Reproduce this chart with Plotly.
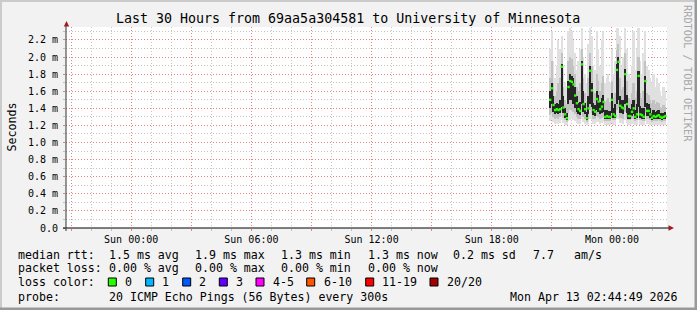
import plotly.graph_objects as go
import pandas as pd

# ---------------- data ----------------
TITLE = "Last 30 Hours from 69aa5a304581 to University of Minnesota"
END_TIME = "2026-04-13 02:44:49"
FIRST_SAMPLE = "2026-04-12 20:55:00"

# median RTT (ms), one value per 5-minute step
median_ms = [1.50, 1.635, 1.44, 1.38, 1.39, 1.38, 1.39, 1.887, 1.41, 1.33,
             1.285, 1.65, 1.72, 1.71, 1.68, 1.55, 1.46, 1.39, 1.37, 1.915,
             1.45, 1.39, 1.285, 1.40, 1.84, 1.61, 1.38, 1.36, 1.51, 1.48,
             1.39, 1.42, 1.475, 1.30, 1.31, 1.30, 1.30, 1.50, 1.33, 1.31,
             1.85, 1.945, 1.43, 1.41, 1.40, 1.80, 1.45, 1.31, 1.31, 1.36,
             1.40, 1.30, 1.33, 1.78, 1.33, 1.32, 1.30, 1.72, 1.37, 1.37,
             1.33, 1.29, 1.31, 1.30, 1.31, 1.32, 1.30, 1.29, 1.30, 1.31]
# smoke: full ping range
smoke_min = [1.25, 1.26, 1.24, 1.22, 1.23, 1.22, 1.23, 1.26, 1.23, 1.21,
             1.20, 1.25, 1.26, 1.27, 1.26, 1.25, 1.23, 1.22, 1.22, 1.28,
             1.24, 1.22, 1.20, 1.22, 1.27, 1.26, 1.22, 1.22, 1.24, 1.24,
             1.22, 1.23, 1.24, 1.20, 1.21, 1.20, 1.20, 1.23, 1.21, 1.21,
             1.27, 1.28, 1.23, 1.23, 1.22, 1.26, 1.23, 1.21, 1.21, 1.22,
             1.22, 1.20, 1.21, 1.26, 1.21, 1.21, 1.20, 1.25, 1.22, 1.22,
             1.21, 1.20, 1.20, 1.20, 1.21, 1.21, 1.20, 1.20, 1.20, 1.21]
smoke_max = [2.10, 2.30, 1.95, 1.75, 1.90, 2.20, 2.10, 2.25, 1.90, 1.70,
             1.65, 2.30, 2.34, 2.30, 2.20, 2.05, 1.85, 1.95, 2.10, 2.34,
             2.00, 1.80, 1.70, 2.15, 2.34, 2.25, 1.90, 1.85, 2.30, 2.10,
             1.90, 2.20, 2.30, 1.70, 1.75, 1.80, 1.70, 2.10, 1.80, 1.95,
             2.34, 2.34, 2.25, 1.90, 2.00, 2.34, 2.10, 1.80, 1.75, 1.90,
             2.30, 1.85, 2.10, 2.34, 1.95, 1.80, 2.05, 2.30, 1.90, 1.85,
             1.75, 1.70, 1.80, 1.65, 1.75, 1.70, 1.60, 1.55, 1.65, 1.60]
# smoke: middle band
band_lo = [1.32, 1.35, 1.30, 1.28, 1.29, 1.28, 1.30, 1.36, 1.29, 1.26,
           1.24, 1.35, 1.38, 1.38, 1.36, 1.33, 1.30, 1.28, 1.28, 1.38,
           1.30, 1.28, 1.24, 1.28, 1.38, 1.35, 1.28, 1.27, 1.31, 1.30,
           1.28, 1.29, 1.30, 1.25, 1.25, 1.25, 1.25, 1.29, 1.26, 1.26,
           1.38, 1.40, 1.29, 1.29, 1.28, 1.36, 1.29, 1.26, 1.26, 1.27,
           1.28, 1.25, 1.26, 1.36, 1.26, 1.26, 1.25, 1.35, 1.27, 1.27,
           1.26, 1.24, 1.25, 1.25, 1.25, 1.26, 1.25, 1.24, 1.25, 1.25]
band_hi = [1.75, 1.95, 1.70, 1.55, 1.60, 1.70, 1.75, 2.05, 1.65, 1.50,
           1.45, 1.95, 2.00, 1.98, 1.90, 1.80, 1.65, 1.60, 1.70, 2.10,
           1.75, 1.58, 1.48, 1.75, 2.05, 1.90, 1.60, 1.58, 1.80, 1.72,
           1.60, 1.70, 1.78, 1.48, 1.50, 1.52, 1.48, 1.72, 1.52, 1.58,
           2.08, 2.15, 1.75, 1.62, 1.65, 2.05, 1.72, 1.52, 1.50, 1.58,
           1.70, 1.52, 1.60, 2.00, 1.58, 1.52, 1.60, 1.95, 1.58, 1.56,
           1.50, 1.46, 1.50, 1.45, 1.48, 1.46, 1.42, 1.40, 1.44, 1.42]
# smoke: dense core
core_lo = [1.40, 1.45, 1.36, 1.33, 1.34, 1.33, 1.34, 1.42, 1.35, 1.29,
           1.26, 1.45, 1.50, 1.50, 1.45, 1.40, 1.36, 1.33, 1.32, 1.45,
           1.36, 1.33, 1.26, 1.33, 1.45, 1.42, 1.32, 1.31, 1.38, 1.36,
           1.33, 1.34, 1.36, 1.27, 1.28, 1.27, 1.27, 1.35, 1.29, 1.29,
           1.45, 1.50, 1.35, 1.34, 1.33, 1.45, 1.35, 1.28, 1.28, 1.31,
           1.33, 1.27, 1.29, 1.42, 1.29, 1.28, 1.27, 1.42, 1.31, 1.31,
           1.29, 1.26, 1.27, 1.27, 1.27, 1.28, 1.27, 1.26, 1.27, 1.27]
core_hi = [1.60, 1.70, 1.55, 1.45, 1.46, 1.45, 1.50, 1.92, 1.55, 1.40,
           1.35, 1.72, 1.80, 1.78, 1.75, 1.65, 1.55, 1.46, 1.48, 1.95,
           1.60, 1.46, 1.36, 1.55, 1.90, 1.70, 1.46, 1.44, 1.60, 1.56,
           1.47, 1.52, 1.56, 1.38, 1.38, 1.37, 1.37, 1.58, 1.40, 1.45,
           1.92, 2.00, 1.55, 1.50, 1.50, 1.86, 1.56, 1.40, 1.39, 1.45,
           1.50, 1.38, 1.45, 1.84, 1.43, 1.40, 1.40, 1.78, 1.46, 1.45,
           1.40, 1.35, 1.38, 1.36, 1.37, 1.38, 1.35, 1.34, 1.35, 1.36]

y_tick_vals = [0.0, 0.2, 0.4, 0.6, 0.8, 1.0, 1.2, 1.4, 1.6, 1.8, 2.0, 2.2]
y_tick_text = ["0.0", "0.2 m", "0.4 m", "0.6 m", "0.8 m", "1.0 m", "1.2 m",
               "1.4 m", "1.6 m", "1.8 m", "2.0 m", "2.2 m"]
x_tick_vals = ["2026-04-11 21:00", "2026-04-12 00:00", "2026-04-12 03:00",
               "2026-04-12 06:00", "2026-04-12 09:00", "2026-04-12 12:00",
               "2026-04-12 15:00", "2026-04-12 18:00", "2026-04-12 21:00",
               "2026-04-13 00:00"]
x_tick_text = ["", "Sun 00:00", "", "Sun 06:00", "", "Sun 12:00", "",
               "Sun 18:00", "", "Mon 00:00"]

rtt_row = [("median rtt:", 16), ("1.5 ms avg", 107.3), ("1.9 ms max", 193.3),
           ("1.3 ms min", 279.3), ("1.3 ms now", 365.7), ("0.2 ms sd", 451),
           ("7.7", 530.7), ("am/s", 572.3)]
loss_row = [("packet loss:", 16), ("0.00 % avg", 107.3), ("0.00 % max", 193.3),
            ("0.00 % min", 279.3), ("0.00 % now", 365.7)]
loss_labels = ["0", "1", "2", "3", "4-5", "6-10", "11-19", "20/20"]
loss_colors = ["#26ff00", "#00b8ff", "#0059ff", "#5e00ff", "#ff00ff",
               "#ff5500", "#ff0000", "#a10000"]
loss_box_x = [108.3, 145.7, 182.7, 219.3, 256, 306.7, 365.7, 430]
loss_label_x = [123.3, 160, 197.3, 234, 270.7, 321.7, 380, 445]
probe_text = "20 ICMP Echo Pings (56 Bytes) every 300s"
stamp_text = "Mon Apr 13 02:44:49 2026"

# ---------------- geometry ----------------
W, H = 697, 310
L, R, T, B = 66, 30, 27, 82
PW, PH = W - L - R, H - T - B
MONO = "DejaVu Sans Mono"


def px(x):
    return (x - L) / PW


def py(y):
    return (H - B - y) / PH


end = pd.Timestamp(END_TIME)
start = end - pd.Timedelta(hours=30)
times = pd.date_range(FIRST_SAMPLE, periods=len(median_ms), freq="5min")
step_ms = 300000

fig = go.Figure()
layers = [(smoke_min, smoke_max, "#e0e0e0"),
          (band_lo, band_hi, "#c2c2c2"),
          (core_lo, core_hi, "#262626")]
for lo, hi, col in layers:
    fig.add_trace(go.Bar(x=times, base=lo, y=[h - l for l, h in zip(lo, hi)],
                         width=step_ms, marker=dict(color=col, line=dict(width=0)),
                         hoverinfo="skip"))
fig.add_trace(go.Scatter(x=times, y=median_ms, mode="markers",
                         marker=dict(symbol="square", size=2.4, color="#26ff00",
                                     line=dict(width=0)),
                         hoverinfo="skip"))

MGRID = "rgba(235,110,110,0.75)"
GRID = "rgba(150,150,150,0.55)"
DASH = "1px,2px"

fig.update_layout(
    width=W, height=H,
    margin=dict(l=L, r=R, t=T, b=B, pad=0),
    paper_bgcolor="#f2f2f2", plot_bgcolor="#ffffff",
    showlegend=False, barmode="overlay", bargap=0,
    xaxis=dict(type="date", range=[start, end], tickmode="array",
               tickvals=x_tick_vals, ticktext=x_tick_text,
               showgrid=True, gridcolor=MGRID, griddash=DASH, gridwidth=1,
               ticks="outside", ticklen=2, tickcolor=MGRID,
               tickfont=dict(family=MONO, size=10, color="#000"),
               showline=False, zeroline=False, automargin=False, fixedrange=True,
               minor=dict(dtick=3600000, tick0="2026-04-11 00:00", showgrid=True,
                          gridcolor=GRID, griddash=DASH, ticks="outside",
                          ticklen=2, tickcolor=GRID)),
    yaxis=dict(range=[0, 2.352], tickmode="array", tickvals=y_tick_vals,
               ticktext=y_tick_text, showgrid=True, gridcolor=MGRID,
               griddash=DASH, gridwidth=1, ticks="outside", ticklen=2,
               tickcolor=MGRID, ticklabelstandoff=3,
               tickfont=dict(family=MONO, size=10, color="#000"),
               showline=False, zeroline=False, automargin=False, fixedrange=True,
               minor=dict(dtick=0.1, tick0=0, showgrid=True, gridcolor=GRID,
                          griddash=DASH, ticks="outside", ticklen=2,
                          tickcolor=GRID)),
)

shapes = []
# axes lines
shapes.append(dict(type="line", xref="paper", yref="paper", x0=px(63), x1=px(669),
                   y0=0, y1=0, line=dict(color="#000000", width=1)))
shapes.append(dict(type="line", xref="paper", yref="paper", x0=0, x1=0,
                   y0=py(231), y1=py(24), line=dict(color="#333333", width=1)))
# arrows
shapes.append(dict(type="path", xref="paper", yref="paper",
                   path=f"M {px(63.8)} {py(26.5)} L {px(69.2)} {py(26.5)} L {px(66.5)} {py(21)} Z",
                   fillcolor="#a01c1c", line=dict(width=0)))
shapes.append(dict(type="path", xref="paper", yref="paper",
                   path=f"M {px(668.5)} {py(225.3)} L {px(668.5)} {py(230.7)} L {px(674)} {py(228)} Z",
                   fillcolor="#a01c1c", line=dict(width=0)))
# frame
shapes.append(dict(type="rect", xref="paper", yref="paper", x0=px(0), x1=px(2),
                   y0=py(0), y1=py(H), fillcolor="#cbcbcb", line=dict(width=0)))
shapes.append(dict(type="rect", xref="paper", yref="paper", x0=px(0), x1=px(W),
                   y0=py(0), y1=py(2), fillcolor="#cbcbcb", line=dict(width=0)))
shapes.append(dict(type="rect", xref="paper", yref="paper", x0=px(W - 2.5), x1=px(W),
                   y0=py(0), y1=py(H), fillcolor="#999999", line=dict(width=0)))
shapes.append(dict(type="rect", xref="paper", yref="paper", x0=px(0), x1=px(W),
                   y0=py(H - 2.5), y1=py(H), fillcolor="#999999", line=dict(width=0)))
# loss colour boxes
for bx, col in zip(loss_box_x, loss_colors):
    shapes.append(dict(type="rect", xref="paper", yref="paper", x0=px(bx), x1=px(bx + 8),
                       y0=py(278), y1=py(286), fillcolor=col,
                       line=dict(color="#000000", width=1)))
fig.update_layout(shapes=shapes)

anns = []


def ann(text, x, y, xanchor="left", size=11.6, color="#000", angle=0):
    anns.append(dict(text=text, x=px(x), y=py(y), xref="paper", yref="paper",
                     xanchor=xanchor, yanchor="middle", showarrow=False,
                     textangle=angle, font=dict(family=MONO, size=size, color=color)))


ann(TITLE, 348, 18.5, xanchor="center", size=13.3)
ann("Seconds", 11, 127.5, xanchor="center", size=11.6, angle=-90)
ann("RRDTOOL / TOBI OETIKER", 688, 73, xanchor="center", size=10.3,
    color="#a8a8a8", angle=90)
for t, x in rtt_row:
    ann(t, x, 254.7)
for t, x in loss_row:
    ann(t, x, 268.3)
ann("loss color:", 16, 282.3)
for t, x in zip(loss_labels, loss_label_x):
    ann(t, x, 282.3)
ann("probe:", 16, 296.7)
ann(probe_text, 107.3, 296.7)
ann(stamp_text, 680, 296.7, xanchor="right")
fig.update_layout(annotations=anns)

fig.write_html("out.html")
